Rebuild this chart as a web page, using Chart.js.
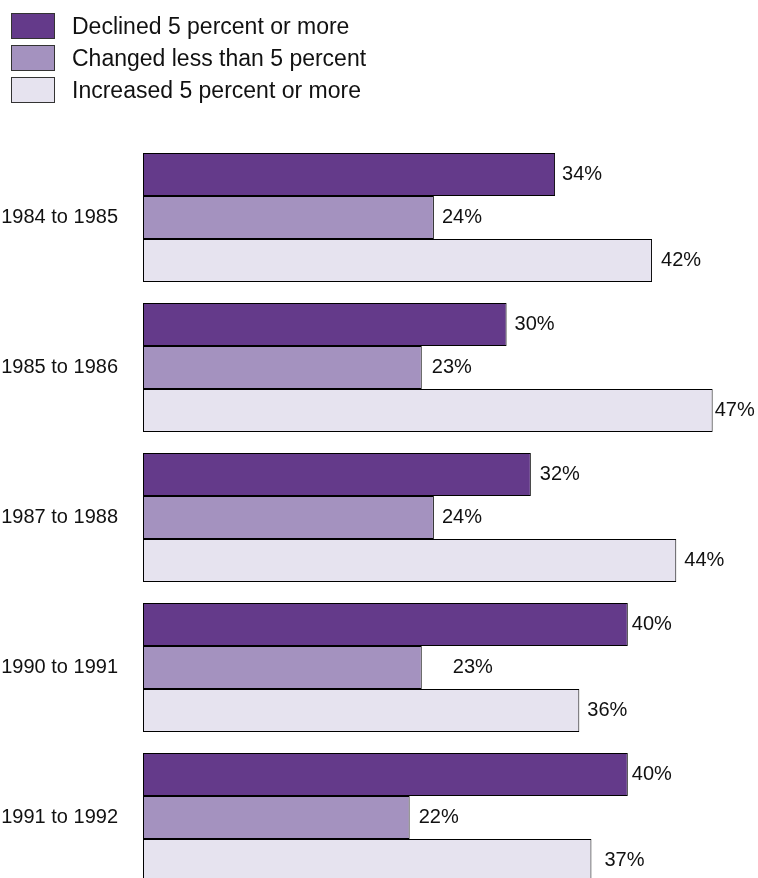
<!DOCTYPE html>
<html>
<head>
<meta charset="utf-8">
<script src="https://cdn.jsdelivr.net/npm/chart.js@4"></script>
<style>
  body { margin: 0; background: #fff; overflow: hidden; font-family: "Liberation Sans", Arial, sans-serif; }
  .contenedor { position: relative; width: 758px; height: 878px; overflow: hidden; }
  .contenedor canvas { position: absolute; left: 0; top: 0; }
  .leyenda { position: absolute; left: 11px; top: 10px; }
  .fila { display: flex; align-items: center; height: 32px; }
  .cuadro { width: 42px; height: 24px; border: 1px solid #333; margin-right: 17px; box-sizing: content-box; }
  .fila span { font-size: 23px; color: #111; }
</style>
</head>
<body>
<div class="contenedor">
  <canvas id="grafico" width="758" height="900"></canvas>
  <div class="leyenda"></div>
</div>
<script>
//Datos del grafico
const periodos = ['1984 to 1985', '1985 to 1986', '1987 to 1988', '1990 to 1991', '1991 to 1992'];
const declinado = [34, 30, 32, 40, 40];
const sinCambio = [24, 23, 24, 23, 22];
const aumentado = [42, 47, 44, 36, 37];
const nombresSeries = ['Declined 5 percent or more', 'Changed less than 5 percent', 'Increased 5 percent or more'];
const colores = ['#643a8a', '#a492bf', '#e6e3ef'];

//separacion de cada etiqueta respecto al final de la barra (px)
const separacion = [
    [7, 8, 9, 4, 4],
    [8, 10, 8, 31, 9],
    [9, 2, 8, 8, 13]
];

const series = [declinado, sinCambio, aumentado];

//Leyenda en html
const contenedorLeyenda = document.querySelector('.leyenda');
nombresSeries.forEach((nombre, i) => {
    const fila = document.createElement('div');
    fila.className = 'fila';
    const cuadro = document.createElement('div');
    cuadro.className = 'cuadro';
    cuadro.style.background = colores[i];
    const texto = document.createElement('span');
    texto.textContent = nombre;
    fila.appendChild(cuadro);
    fila.appendChild(texto);
    contenedorLeyenda.appendChild(fila);
});

//Plugin para pintar los porcentajes al final de cada barra
const etiquetasValor = {
    id: 'etiquetasValor',
    afterDatasetsDraw(chart) {
        const ctx = chart.ctx;
        ctx.save();
        ctx.font = '20px "Liberation Sans", Arial, sans-serif';
        ctx.fillStyle = '#111';
        ctx.textAlign = 'left';
        ctx.textBaseline = 'middle';
        chart.data.datasets.forEach((ds, i) => {
            const meta = chart.getDatasetMeta(i);
            meta.data.forEach((barra, j) => {
                ctx.fillText(ds.data[j] + '%', barra.x + separacion[i][j], barra.y);
            });
        });
        ctx.restore();
    }
};

function crearGrafico(contenedor) {
    new Chart(contenedor, {
        type: 'bar',
        data: {
            labels: periodos,
            datasets: series.map((valores, i) => ({
                label: nombresSeries[i],
                data: valores,
                backgroundColor: colores[i],
                borderColor: '#000',
                borderWidth: 1,
                borderSkipped: false,
                categoryPercentage: 0.86,
                barPercentage: 1
            }))
        },
        options: {
            indexAxis: 'y',
            responsive: false,
            animation: false,
            layout: { padding: { top: 142.5, bottom: 7.5, left: 0, right: 9 } },
            plugins: {
                legend: { display: false },
                tooltip: { enabled: false }
            },
            scales: {
                x: { display: false, min: 0, max: 50 },
                y: {
                    grid: { display: false, drawTicks: false },
                    border: { display: false },
                    ticks: {
                        padding: 25,
                        color: '#111',
                        font: { family: '"Liberation Sans", Arial, sans-serif', size: 20 }
                    },
                    afterFit: (escala) => {
                        escala.width = 143;
                        escala.paddingTop = 0;
                        escala.paddingBottom = 0;
                    }
                }
            }
        },
        plugins: [etiquetasValor]
    });
}

crearGrafico(document.getElementById('grafico'));
</script>
</body>
</html>
